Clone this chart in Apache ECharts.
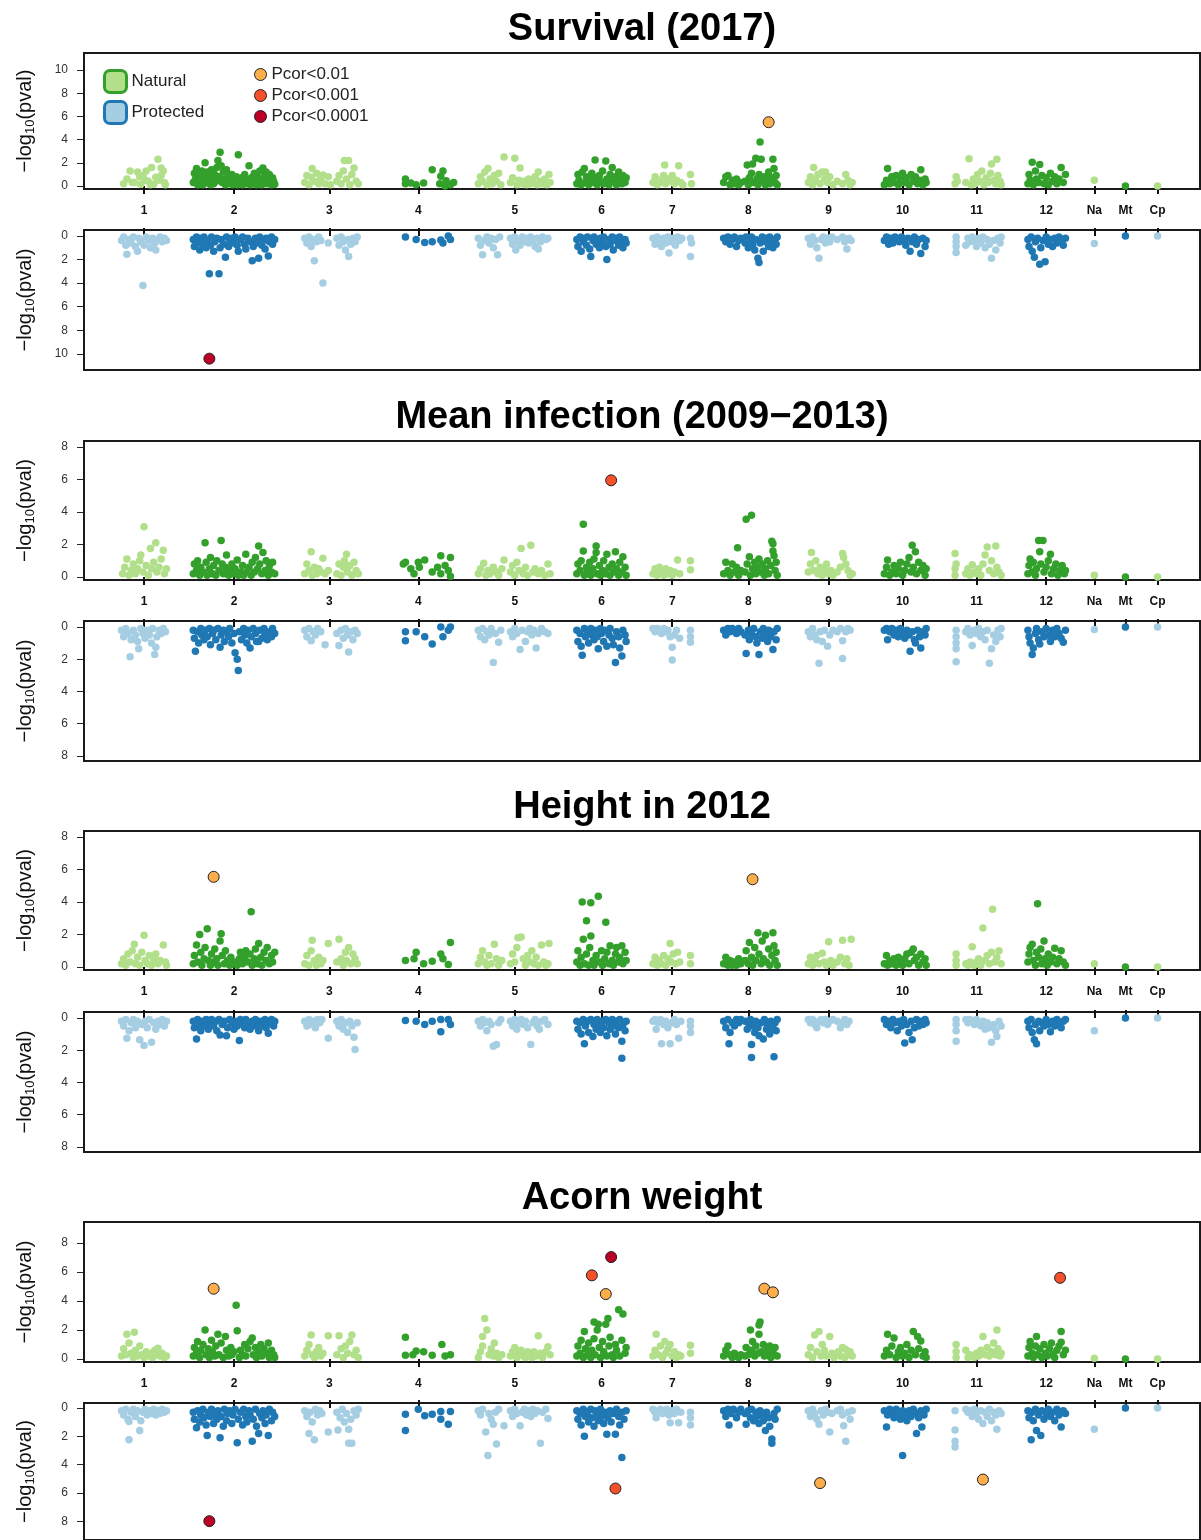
<!DOCTYPE html>
<html><head><meta charset="utf-8">
<script src="https://cdn.jsdelivr.net/npm/echarts@6/dist/echarts.min.js"></script>
<style>html,body{margin:0;padding:0;background:#fff}#c{width:1201px;height:1540px}</style>
</head><body><div id="c"></div>
<script>
// ---- chromosome axis (cumulative genome position units) ----
const chrNames = ['1','2','3','4','5','6','7','8','9','10','11','12','Na','Mt','Cp'];
const chrTicks = [56,140,229,312,402,483,549,620,695,764,833,898,943,972,1002];
const chrEnds  = [90,192,280,357,448,520,583,661,731,798,868,928,958,988,1042];
const genomeLength = 1041.6;
const panelTitles = ['Survival (2017)','Mean infection (2009\u22122013)','Height in 2012','Acorn weight'];
const yTicksSurvival = [0,2,4,6,8,10];
const yTicksOther = [0,2,4,6,8];
const sigLabels = ['Pcor<0.01','Pcor<0.001','Pcor<0.0001'];

// ---- data: [cumulative position, -log10(p)] ; sig: [position, -log10(p), level] ----
const survivalNatural = [
[37,0.2],[40,0.6],[43,1.3],[45,0.3],[47,0.3],[50,1.2],[52,0.8],[53,0.15],[55,0.9],[57,0.5],[58,1.3],[60,0.4],[62,0.1],[63,1.6],[65,0.15],[67,0.75],[69,2.3],[70,0.5],[72,1.55],[72,0.9],[74,1.3],[75,0.3],[76,0.1],
[102,0.3],[103,1.1],[104,0.6],[105,1.5],[106,0.1],[108,0.9],[109,0.4],[110,1.3],[111,0.1],[112,0.7],[113,2.0],[114,0.3],[115,1.2],[116,0.5],[117,0.9],[118,0.1],[119,1.4],[120,0.6],[121,0.2],[122,1.0],[123,0.4],[124,1.6],[125,2.2],[126,0.8],[127,2.9],[128,1.75],[129,0.3],[130,1.2],[131,0.6],[132,0.1],[133,1.4],[134,0.5],[135,0.9],[136,0.2],[137,0.4],[138,1.0],[139,0.1],[140,0.6],[141,0.3],[142,0.8],[143,0.1],[144,2.7],[145,0.4],[146,0.2],[147,0.7],[148,0.1],[149,0.5],[150,1.0],[151,0.2],[152,0.3],[153,0.6],[154,1.75],[155,0.1],[156,0.4],[157,0.75],[158,0.2],[159,1.1],[160,0.5],[161,0.1],[162,0.8],[163,0.3],[164,1.3],[165,0.6],[166,0.1],[167,1.55],[168,0.4],[169,0.9],[170,1.2],[171,0.2],[172,0.6],[173,1.0],[174,0.3],[175,0.1],[176,0.7],[177,0.4],[178,0.15],
[206,0.3],[208,0.9],[210,0.1],[212,0.75],[213,1.5],[215,0.4],[217,1.1],[219,0.2],[221,0.6],[223,0.95],[225,0.2],[228,0.8],[230,0.1],[236,0.4],[238,0.9],[240,0.2],[242,1.3],[243,2.2],[245,0.6],[247,2.2],[248,0.1],[250,1.0],[252,1.55],[254,0.4],[256,0.2],
[300,0.6],[300,0.2],[305,0.25],[310,0.1],[317,0.25],[325,1.4],[332,0.2],[333,0.85],[335,1.3],[337,0.0],[338,0.45],[342,0.1],[345,0.3],
[368,0.2],[370,0.8],[372,0.4],[374,1.2],[376,0.1],[377,1.5],[379,0.6],[381,0.2],[383,0.9],[385,0.4],[387,1.1],[389,0.1],[392,2.5],[398,0.3],[400,0.7],[402,2.4],[404,0.1],[406,0.5],[407,1.55],[409,0.2],[411,0.4],[413,0.1],[415,0.6],[417,0.2],[419,0.3],[421,0.8],[423,0.1],[424,1.2],[426,0.4],[428,0.2],[430,0.6],[432,0.1],[434,1.0],[435,0.3],
[460,0.2],[461,1.0],[462,0.5],[464,0.1],[465,1.2],[467,1.5],[468,0.3],[469,0.8],[471,0.1],[472,0.6],[474,1.1],[475,0.3],[477,2.25],[478,0.7],[479,0.1],[481,0.9],[482,0.4],[484,1.3],[485,0.2],[487,2.15],[488,0.6],[490,0.1],[491,1.0],[493,1.6],[494,0.4],[496,0.8],[497,0.1],[499,1.2],[500,0.5],[502,0.2],[503,0.9],[505,0.3],[506,0.7],
[531,0.3],[533,0.8],[535,0.1],[537,0.5],[539,0.3],[541,0.9],[542,1.8],[543,0.2],[545,0.6],[547,0.4],[549,0.9],[551,0.2],[553,0.5],[555,1.75],[557,0.3],[559,0.1],[566,1.0],[567,0.2],
[597,0.3],[599,0.8],[601,0.9],[603,0.1],[605,0.5],[607,0.2],[609,0.6],[611,0.1],[613,0.3],[617,0.4],[619,1.8],[620,0.1],[621,0.7],[623,1.1],[624,1.9],[625,0.3],[627,2.4],[628,0.6],[629,0.1],[630,1.0],[631,3.8],[632,2.3],[633,0.4],[635,0.8],[636,0.1],[637,0.5],[639,1.2],[640,0.2],[641,0.7],[643,2.3],[644,1.5],[645,0.3],[646,0.9],[647,0.1],
[676,0.3],[678,0.8],[680,0.1],[681,1.6],[683,0.5],[685,1.0],[687,0.2],[689,1.2],[691,0.6],[692,1.2],[694,0.3],[696,0.8],[699,0.1],[703,0.4],[708,0.2],[711,1.0],[713,0.5],[715,0.1],[717,0.3],
[747,0.1],[749,0.5],[750,1.5],[752,0.2],[754,0.8],[756,0.3],[758,0.9],[760,0.1],[762,0.6],[764,1.1],[766,0.3],[768,0.7],[770,0.1],[772,1.0],[774,0.4],[776,0.8],[778,0.2],[780,0.5],[781,1.4],[783,0.1],[785,0.6],[786,0.3],
[813,0.2],[814,0.8],[815,0.4],[823,0.3],[826,2.35],[828,0.1],[830,0.6],[832,0.2],[834,1.0],[836,0.4],[838,1.3],[840,0.1],[842,0.7],[844,0.3],[846,1.1],[847,1.9],[849,0.5],[851,0.2],[852,2.3],[853,0.9],[855,0.4],[856,0.1],
[881,0.2],[882,1.0],[883,0.5],[885,2.05],[886,0.1],[888,1.3],[889,0.6],[891,0.3],[892,1.85],[894,0.9],[896,0.2],[898,0.7],[900,0.1],[902,1.1],[904,0.4],[906,0.8],[908,0.2],[910,0.6],[912,1.6],[914,0.3],[916,1.0],
[943,0.5],[972,0.0],[1002,0.0]];
const survivalNaturalSig = [[639,5.5,0]];

const survivalProtected = [
[35,0.4],[37,0.1],[39,0.8],[40,1.55],[42,0.3],[44,0.6],[46,0.1],[48,0.9],[50,1.3],[51,0.2],[53,0.5],[55,4.2],[56,0.8],[58,0.1],[60,0.4],[62,1.0],[64,0.2],[66,0.6],[67,1.2],[69,0.3],[71,0.1],[73,0.5],[75,0.2],[77,0.4],
[102,0.3],[103,0.9],[105,0.1],[106,0.6],[108,1.2],[109,0.2],[111,0.7],[112,0.1],[114,1.0],[115,0.4],[117,3.2],[118,0.8],[119,0.1],[121,1.3],[122,0.5],[124,0.2],[126,3.2],[127,1.0],[128,0.3],[130,0.7],[132,1.8],[133,0.1],[135,0.9],[136,0.4],[138,0.2],[140,0.6],[141,0.1],[143,0.8],[144,1.3],[146,0.3],[148,0.1],[150,0.7],[151,1.1],[153,0.2],[155,0.5],[157,2.1],[158,0.9],[160,0.2],[161,0.6],[163,1.9],[164,0.1],[166,0.8],[167,0.4],[169,1.1],[170,0.2],[172,1.7],[173,0.5],[175,0.1],[176,0.7],[178,0.3],
[206,0.2],[208,0.6],[210,0.1],[212,0.9],[214,0.3],[215,2.1],[217,0.5],[219,0.1],[221,0.4],[223,4.0],[228,0.6],[236,0.2],[238,0.8],[240,0.1],[242,0.5],[244,1.2],[246,0.3],[247,1.75],[249,0.7],[251,0.2],[253,0.5],[255,0.1],
[300,0.1],[310,0.3],[318,0.55],[325,0.5],[333,0.35],[335,0.6],[340,0.0],[342,0.3],
[368,0.2],[370,0.8],[372,1.6],[374,0.4],[376,0.1],[378,0.6],[380,0.2],[382,1.0],[384,0.3],[386,1.6],[388,0.1],[398,0.2],[400,0.7],[402,0.1],[403,1.2],[405,0.4],[407,0.8],[409,0.1],[411,0.5],[413,0.2],[415,0.6],[417,0.1],[419,0.4],[421,0.9],[423,0.2],[424,1.1],[426,0.5],[428,0.1],[431,0.3],[433,0.2],
[460,0.3],[461,0.9],[463,0.1],[464,1.3],[466,0.5],[467,0.2],[469,0.8],[470,0.1],[472,1.1],[473,1.75],[475,0.4],[476,0.1],[478,0.7],[479,0.3],[481,1.0],[482,0.2],[484,0.6],[485,0.1],[487,0.9],[488,2.0],[490,0.3],[491,0.7],[493,0.1],[494,1.2],[496,0.4],[497,0.2],[499,0.8],[500,0.1],[502,0.5],[503,1.0],[505,0.3],[506,0.6],
[531,0.2],[533,0.7],[535,0.1],[537,0.4],[539,0.9],[541,0.2],[543,0.6],[545,0.1],[546,1.45],[548,0.5],[550,0.2],[552,0.8],[554,0.1],[556,0.4],[558,0.2],[566,0.2],[566,1.75],[567,0.6],
[597,0.2],[599,0.5],[601,0.1],[603,0.7],[605,0.3],[607,0.1],[609,0.9],[611,0.4],[613,0.2],[617,0.6],[618,0.1],[620,1.0],[621,0.4],[623,0.1],[624,0.8],[626,1.2],[627,0.3],[629,1.9],[630,2.25],[631,0.6],[633,0.1],[634,1.3],[636,0.5],[637,0.2],[639,0.9],[640,0.1],[642,0.6],[643,1.0],[645,0.3],[646,0.7],[647,0.1],
[676,0.2],[678,0.7],[680,0.1],[682,0.4],[684,1.0],[686,1.9],[688,0.3],[690,0.1],[692,0.6],[694,0.2],[696,0.5],[698,0.1],[703,0.3],[708,0.1],[710,0.5],[712,1.1],[714,0.2],[716,0.4],
[747,0.4],[749,0.1],[751,0.7],[753,0.2],[755,0.6],[757,0.1],[759,0.3],[761,0.5],[763,0.1],[765,0.4],[767,0.8],[769,0.2],[771,1.3],[773,0.5],[775,0.1],[777,0.7],[779,0.3],[781,1.5],[783,0.2],[785,0.9],[786,0.4],
[814,0.1],[814,0.5],[814,0.9],[814,1.4],[823,0.8],[825,0.2],[827,0.5],[829,0.1],[831,0.4],[833,0.9],[835,0.2],[837,0.6],[839,0.1],[841,1.0],[843,0.3],[845,0.7],[847,1.9],[849,0.4],[851,1.2],[853,0.2],[855,0.6],[856,0.1],
[881,0.3],[882,0.9],[884,0.1],[885,1.3],[887,1.8],[888,0.5],[890,0.2],[892,2.4],[893,1.0],[895,0.4],[897,2.2],[898,0.1],[900,0.7],[902,0.3],[904,0.9],[906,0.2],[908,0.6],[910,0.1],[912,0.4],[914,0.8],[916,0.2],
[943,0.65],[972,0.0],[1002,0.0]];
const survivalProtectedSig = [[117,10.4,2]];

const infectionNatural = [
[36,0.2],[38,0.6],[40,1.1],[42,0.1],[44,0.4],[46,0.8],[48,0.2],[50,0.5],[52,1.0],[53,1.35],[55,0.3],[56,3.1],[58,0.7],[60,0.1],[62,1.75],[63,0.5],[65,0.9],[67,2.1],[68,0.3],[70,0.6],[72,1.1],[74,1.65],[75,0.2],[77,0.5],
[102,0.2],[103,0.8],[105,0.4],[106,1.0],[108,0.1],[109,0.6],[111,0.3],[113,2.1],[114,0.9],[115,0.1],[117,0.5],[118,1.2],[120,0.2],[121,0.7],[123,0.1],[124,1.0],[126,0.4],[128,2.25],[129,0.8],[130,0.2],[132,0.6],[133,1.35],[135,0.1],[136,0.4],[138,0.8],[139,0.2],[141,0.5],[143,1.05],[144,0.1],[146,0.3],[148,0.7],[149,0.1],[151,1.4],[152,0.3],[154,0.6],[156,0.1],[157,0.9],[159,0.3],[160,1.2],[162,0.5],[163,1.9],[164,0.8],[166,0.2],[167,1.5],[169,0.4],[170,1.0],[172,0.1],[173,0.7],[175,0.3],[176,0.9],[178,0.2],
[206,0.2],[208,0.8],[210,0.4],[212,1.55],[213,0.1],[215,0.6],[217,0.2],[219,0.5],[221,0.3],[223,1.15],[225,0.2],[228,0.4],[236,0.2],[238,0.8],[240,0.1],[242,0.6],[243,1.0],[245,1.4],[246,0.3],[248,0.7],[250,0.1],[252,0.9],[254,0.4],[256,0.2],
[298,0.8],[300,0.9],[305,0.5],[308,0.2],[312,0.9],[313,0.6],[318,1.05],[325,0.3],[330,0.6],[333,1.3],[333,0.2],[337,0.7],[340,0.4],[342,1.2],[342,0.05],
[368,0.2],[370,0.5],[373,0.85],[375,0.1],[377,0.4],[379,0.2],[382,0.6],[385,0.3],[387,0.1],[390,0.5],[392,1.05],[398,0.3],[400,0.7],[402,0.1],[404,0.9],[406,0.4],[408,1.75],[410,0.2],[412,0.6],[414,0.1],[417,1.95],[419,0.3],[421,0.5],[424,0.2],[427,0.4],[430,0.1],[433,0.8],[435,0.2],
[460,0.2],[461,0.8],[463,0.4],[464,1.0],[466,3.25],[466,1.6],[467,0.1],[469,0.6],[470,0.3],[472,0.9],[473,0.1],[475,0.5],[476,1.1],[478,1.9],[478,1.5],[479,0.2],[481,0.7],[482,0.1],[484,0.4],[485,1.0],[487,0.2],[488,1.4],[490,0.6],[491,0.1],[493,0.8],[494,0.3],[496,1.55],[497,0.5],[499,0.1],[500,0.9],[502,0.3],[503,1.25],[505,0.6],[506,0.1],
[531,0.2],[533,0.5],[535,0.1],[537,0.6],[539,0.3],[541,0.1],[543,0.5],[545,0.2],[547,0.4],[549,0.1],[551,0.3],[554,1.05],[556,0.2],[566,1.0],[566,0.45],
[597,0.2],[599,0.9],[601,0.4],[603,0.1],[605,0.8],[607,0.3],[609,0.6],[610,1.8],[611,0.1],[613,0.4],[617,0.3],[618,3.55],[619,0.8],[621,1.25],[622,0.1],[623,3.8],[624,0.5],[626,0.9],[627,0.2],[629,0.6],[630,1.1],[632,0.3],[633,0.8],[635,0.1],[636,0.5],[638,1.0],[639,0.2],[641,0.7],[642,2.2],[643,2.05],[643,1.6],[644,1.3],[645,0.4],[646,0.9],[647,0.1],
[676,0.3],[678,0.8],[679,1.5],[681,0.4],[683,1.0],[685,0.2],[687,0.6],[689,0.1],[691,0.5],[693,0.8],[695,0.2],[697,0.4],[699,0.1],[703,0.3],[706,0.6],[708,1.45],[709,1.2],[711,0.8],[713,0.4],[715,0.1],[717,0.2],
[747,0.2],[749,0.6],[750,1.05],[752,0.1],[754,0.3],[756,0.7],[758,0.2],[760,0.5],[762,0.9],[764,0.1],[766,0.4],[768,0.8],[770,1.2],[772,0.3],[773,1.95],[774,0.6],[776,1.55],[777,0.2],[779,0.9],[781,0.4],[783,0.7],[785,0.1],[786,0.5],
[813,0.1],[813,0.5],[813,1.45],[814,0.8],[823,0.2],[825,0.5],[827,0.1],[829,0.75],[831,0.3],[833,0.2],[835,0.5],[837,0.1],[839,0.8],[841,1.35],[843,1.85],[845,0.4],[847,1.0],[849,0.2],[851,1.9],[852,0.6],[854,0.3],[856,0.1],
[881,0.2],[882,0.7],[883,1.1],[885,0.3],[886,0.9],[888,0.1],[889,0.5],[891,2.25],[892,1.55],[893,0.8],[895,2.25],[896,0.3],[898,0.6],[900,1.0],[902,1.4],[903,0.2],[905,0.5],[907,0.8],[909,0.1],[911,0.4],[913,0.7],[915,0.2],[916,0.4],
[943,0.1],[972,0.0],[1002,0.0]];
const infectionNaturalSig = [[492,5.95,1]];

const infectionProtected = [
[35,0.2],[37,0.6],[39,0.1],[41,0.4],[43,1.85],[44,0.8],[46,0.2],[48,0.5],[50,0.9],[51,1.35],[53,0.1],[55,0.4],[57,0.7],[59,0.2],[61,0.5],[63,1.0],[64,0.1],[66,1.7],[67,1.25],[68,0.6],[70,0.2],[72,0.4],[74,0.1],[76,0.3],
[102,0.2],[103,0.7],[104,1.5],[106,0.3],[107,1.0],[109,0.1],[110,0.5],[112,0.8],[113,0.2],[115,0.6],[117,0.1],[118,1.1],[120,0.4],[121,0.2],[123,0.8],[125,0.1],[127,1.25],[128,0.5],[130,0.2],[131,0.9],[133,0.3],[135,0.6],[136,0.1],[138,1.0],[140,0.4],[141,1.6],[143,2.0],[144,2.7],[145,0.3],[147,0.8],[149,0.1],[150,0.5],[152,1.0],[153,0.2],[155,1.3],[156,0.6],[158,0.1],[160,0.4],[161,0.9],[163,0.9],[164,0.2],[166,0.7],[168,0.1],[169,0.5],[171,0.8],[173,0.3],[175,0.6],[176,0.1],[178,0.4],
[206,0.2],[208,0.6],[210,0.1],[212,0.85],[214,0.3],[216,0.5],[218,0.1],[221,0.3],[225,1.1],[236,0.4],[238,1.15],[240,0.2],[242,0.7],[244,0.1],[246,0.5],[247,1.55],[249,0.3],[251,0.8],[253,0.2],[255,0.4],
[300,0.3],[300,0.85],[310,0.3],[318,0.6],[325,1.05],[333,0.0],[335,0.6],[340,0.2],[342,0.0],
[368,0.2],[370,0.6],[372,0.1],[374,0.8],[376,0.3],[378,0.5],[380,0.1],[382,2.2],[384,0.4],[387,0.95],[389,0.2],[398,0.3],[400,0.6],[402,0.1],[404,0.4],[407,1.4],[409,0.2],[412,0.9],[414,0.3],[416,0.1],[418,0.5],[420,0.2],[422,1.3],[424,0.4],[427,0.1],[430,0.3],[433,0.4],
[460,0.2],[461,0.9],[463,0.4],[464,1.2],[465,1.75],[467,0.1],[468,0.6],[470,0.3],[471,1.0],[473,0.1],[474,0.5],[476,0.8],[477,0.2],[479,0.6],[480,1.35],[482,0.1],[483,0.4],[485,0.9],[486,0.2],[488,1.2],[490,0.5],[491,0.1],[493,0.7],[494,1.1],[496,2.2],[497,0.3],[499,0.6],[500,1.3],[502,1.8],[503,0.2],[505,0.5],[506,0.9],
[531,0.1],[533,0.3],[535,0.1],[537,0.2],[539,0.4],[541,0.1],[543,0.3],[545,0.2],[547,0.6],[549,1.25],[549,2.05],[551,0.5],[553,0.2],[556,0.7],[566,0.2],[566,0.6],[566,0.95],
[597,0.2],[599,0.5],[601,0.1],[603,0.3],[605,0.1],[607,0.2],[609,0.4],[611,0.1],[613,0.3],[617,0.5],[618,1.65],[620,0.2],[621,0.8],[623,0.4],[625,0.1],[627,0.6],[628,1.0],[630,1.7],[631,0.3],[633,0.7],[634,0.1],[636,0.5],[638,0.9],[639,0.2],[641,0.6],[643,1.4],[644,0.3],[646,0.8],[647,0.1],
[676,0.3],[678,0.6],[680,0.1],[682,0.5],[684,0.8],[686,2.25],[687,0.3],[689,0.9],[691,0.2],[694,1.2],[696,0.5],[699,0.2],[703,0.3],[706,0.1],[708,0.85],[708,1.95],[711,0.3],[713,0.1],[715,0.2],
[747,0.2],[749,0.1],[750,0.8],[752,0.3],[754,0.1],[756,0.5],[758,0.2],[760,0.6],[762,0.1],[764,0.4],[766,0.7],[768,0.2],[770,0.5],[771,1.5],[773,0.3],[775,0.8],[776,1.0],[778,0.2],[780,0.6],[781,1.3],[783,0.3],[785,0.5],[786,0.1],
[814,0.2],[814,0.6],[814,1.0],[814,1.35],[814,2.15],[823,0.3],[825,0.1],[827,0.5],[829,1.15],[831,0.2],[833,0.4],[835,0.1],[837,0.6],[839,0.3],[841,0.8],[843,0.2],[845,2.25],[847,1.35],[849,0.5],[851,0.9],[853,0.2],[855,0.6],[856,0.1],
[881,0.2],[882,0.6],[883,1.0],[885,1.7],[886,1.3],[888,0.4],[889,0.1],[891,0.8],[892,1.05],[894,0.3],[896,0.6],[898,0.1],[900,0.5],[902,0.9],[904,0.2],[906,0.6],[908,0.1],[910,0.4],[912,0.7],[914,0.95],[916,0.2],
[943,0.15],[972,0.0],[1002,0.0]];
const infectionProtectedSig = [];

const heightNatural = [
[35,0.2],[37,0.5],[39,0.1],[41,0.8],[43,0.3],[45,1.0],[47,1.4],[48,0.2],[50,0.6],[52,0.1],[54,0.9],[56,1.95],[57,0.4],[59,0.2],[61,0.7],[63,0.1],[65,0.5],[67,0.8],[69,0.2],[71,0.4],[74,1.35],[76,0.3],[77,0.1],
[102,0.2],[103,0.7],[105,1.35],[106,0.3],[108,2.0],[109,0.9],[110,0.1],[112,0.5],[113,1.2],[115,2.35],[116,0.4],[118,0.1],[119,0.8],[121,0.3],[122,1.1],[124,0.5],[125,0.1],[127,1.6],[128,2.05],[129,0.7],[131,0.2],[132,1.0],[134,0.4],[136,0.1],[137,0.6],[139,0.2],[141,0.3],[143,0.1],[145,0.5],[146,0.9],[148,0.2],[150,0.6],[151,1.0],[153,0.3],[155,0.8],[156,3.4],[157,0.1],[159,0.5],[160,1.1],[162,0.2],[163,1.45],[165,0.6],[166,0.1],[168,0.9],[170,0.4],[171,1.2],[173,0.2],[175,0.7],[176,0.3],[178,0.9],
[206,0.2],[208,0.7],[210,0.1],[212,1.0],[213,1.65],[215,0.4],[217,0.1],[219,0.6],[221,0.2],[223,0.4],[228,1.45],[236,0.3],[238,1.7],[240,0.5],[242,0.1],[244,0.9],[245,0.4],[247,1.2],[249,0.2],[251,0.8],[253,0.5],[255,0.2],
[300,0.4],[308,0.5],[310,0.9],[317,0.2],[325,0.35],[333,0.8],[335,0.5],[340,0.15],[342,1.5],
[368,0.2],[370,0.6],[372,1.0],[374,0.3],[376,0.1],[378,0.7],[380,0.2],[383,1.4],[385,0.5],[387,0.1],[390,0.4],[398,0.2],[400,0.8],[402,0.3],[404,1.2],[405,1.8],[408,1.85],[410,0.5],[412,0.1],[414,0.7],[416,0.3],[418,1.0],[420,0.2],[422,0.6],[424,0.1],[427,1.35],[429,0.3],[431,0.1],[433,0.2],[434,1.45],
[460,0.3],[461,1.0],[463,0.1],[464,0.6],[465,4.0],[466,1.7],[467,0.2],[469,2.85],[469,0.8],[471,0.1],[472,1.2],[473,3.95],[473,1.9],[475,0.4],[476,0.1],[478,0.7],[480,4.35],[481,0.3],[483,1.0],[484,0.1],[486,0.5],[487,2.75],[488,0.9],[490,0.2],[491,1.3],[493,0.4],[494,0.1],[496,0.8],[497,1.2],[499,0.3],[500,0.6],[502,1.3],[503,0.2],[505,0.9],[506,0.4],
[531,0.2],[533,0.6],[535,0.1],[537,0.4],[539,0.2],[541,0.7],[543,0.1],[545,0.5],[547,1.45],[548,0.3],[550,0.8],[552,0.2],[554,0.9],[556,0.3],[566,0.7],[566,0.2],
[597,0.2],[599,0.6],[601,0.1],[603,0.4],[605,0.1],[607,0.3],[609,0.1],[611,0.5],[613,0.2],[617,0.4],[618,1.0],[620,0.2],[621,1.5],[623,0.6],[624,0.1],[626,1.2],[627,0.4],[629,2.1],[630,0.8],[632,0.2],[633,1.6],[634,0.5],[636,1.95],[637,0.3],[639,1.1],[640,0.1],[642,0.7],[643,2.1],[644,1.3],[645,0.4],[646,0.9],[647,0.1],
[676,0.2],[678,0.6],[680,0.1],[682,0.4],[684,0.7],[686,0.2],[689,0.85],[691,0.3],[693,0.1],[695,1.55],[697,0.4],[699,0.1],[703,0.3],[706,0.6],[708,1.65],[710,0.2],[712,0.5],[714,0.1],[716,1.7],
[747,0.2],[749,0.7],[750,0.1],[752,0.4],[754,0.2],[756,0.5],[758,0.1],[760,0.6],[762,0.3],[764,0.1],[766,0.5],[768,0.8],[770,0.2],[772,0.9],[774,1.1],[775,0.4],[777,0.6],[779,0.1],[781,0.8],[783,0.3],[785,0.5],[786,0.1],
[814,0.1],[814,0.4],[814,0.8],[823,0.2],[825,0.1],[827,0.3],[829,1.25],[831,0.1],[833,0.3],[835,0.5],[837,0.1],[839,2.4],[841,0.4],[843,0.7],[845,0.2],[847,0.9],[848,3.55],[850,0.3],[852,0.6],[854,1.0],[856,0.2],
[881,0.3],[882,0.8],[883,1.2],[885,1.4],[886,0.4],[888,0.1],[889,0.9],[890,3.9],[891,0.6],[893,1.1],[894,0.2],[896,1.6],[897,0.5],[899,0.1],[900,0.8],[902,0.3],[904,0.6],[906,1.15],[908,0.2],[910,0.5],[912,1.0],[914,0.3],[916,0.1],
[943,0.2],[972,0.0],[1002,0.0]];
const heightNaturalSig = [[121,5.55,0],[624,5.4,0]];

const heightProtected = [
[35,0.2],[37,0.5],[39,0.1],[40,1.25],[42,0.8],[44,0.3],[46,0.1],[48,0.6],[50,0.2],[52,1.35],[54,0.4],[56,1.7],[57,0.2],[59,0.6],[61,0.1],[63,1.5],[65,0.3],[67,0.7],[69,0.2],[71,0.4],[73,0.1],[75,0.5],[77,0.2],
[102,0.2],[103,0.6],[105,1.3],[106,0.1],[108,0.4],[109,0.8],[111,0.2],[113,0.5],[114,0.1],[116,0.7],[118,0.3],[119,0.1],[121,0.5],[123,0.2],[124,0.8],[126,0.1],[127,1.05],[129,0.4],[131,0.2],[133,1.1],[134,0.6],[136,0.1],[138,0.3],[140,0.7],[141,0.2],[143,0.5],[145,1.4],[146,0.1],[148,0.4],[150,0.6],[151,0.1],[153,0.3],[155,0.7],[157,0.2],[158,0.5],[160,0.1],[162,0.4],[163,0.8],[165,0.2],[167,0.5],[169,0.1],[170,0.6],[172,0.95],[173,0.3],[175,0.1],[177,0.5],[178,0.2],
[206,0.2],[208,0.5],[210,0.1],[212,0.4],[214,0.2],[216,0.6],[218,0.1],[220,0.3],[222,0.1],[228,1.25],[236,0.2],[238,0.5],[240,0.1],[242,0.7],[244,0.3],[246,0.9],[248,0.2],[250,0.5],[252,1.2],[253,1.95],[255,0.3],
[300,0.15],[310,0.2],[318,0.4],[325,0.2],[333,0.85],[333,0.1],[340,0.1],[342,0.4],
[368,0.2],[370,0.5],[372,0.1],[374,0.3],[376,0.8],[378,0.2],[380,0.4],[382,1.75],[385,1.65],[387,0.3],[389,0.1],[398,0.2],[400,0.5],[402,0.1],[404,0.7],[406,0.3],[408,0.1],[410,0.4],[412,0.2],[414,0.6],[417,1.65],[419,0.3],[421,0.1],[423,0.5],[425,0.7],[427,0.2],[430,0.1],[433,0.4],
[460,0.2],[461,0.7],[463,0.3],[464,1.0],[466,0.1],[467,1.6],[468,0.5],[470,0.2],[471,0.9],[473,0.1],[475,1.15],[476,0.4],[478,0.7],[479,0.1],[481,0.5],[482,0.9],[484,0.2],[485,0.6],[487,0.1],[488,1.1],[490,0.3],[491,0.7],[493,0.1],[494,0.5],[496,1.0],[497,0.2],[499,0.6],[500,0.1],[502,2.5],[502,1.45],[503,0.4],[505,0.8],[506,0.2],
[531,0.2],[533,0.1],[534,0.7],[536,0.3],[538,0.1],[539,1.6],[541,0.4],[543,0.2],[545,0.6],[547,1.6],[549,0.3],[551,0.1],[553,0.4],[555,1.25],[557,0.2],[566,0.2],[566,0.5],[566,0.9],
[597,0.2],[599,0.6],[601,0.1],[602,1.6],[603,0.9],[605,0.3],[607,0.5],[609,0.1],[611,0.3],[613,0.1],[617,0.2],[619,0.7],[620,0.3],[622,0.1],[623,1.65],[623,2.45],[624,0.5],[626,0.9],[627,0.2],[629,0.6],[630,1.1],[632,0.3],[634,1.3],[635,0.1],[637,0.7],[638,0.4],[640,1.0],[641,0.2],[643,0.6],[644,2.4],[645,0.3],[646,0.8],[647,0.1],
[676,0.1],[678,0.3],[680,0.1],[682,0.4],[684,0.6],[686,0.2],[688,0.1],[690,0.3],[692,0.1],[694,0.4],[696,0.2],[699,0.1],[703,0.2],[706,0.6],[708,0.3],[710,0.1],[712,0.4],[714,0.2],
[747,0.1],[749,0.4],[751,0.2],[753,0.6],[755,0.1],[757,0.3],[759,0.8],[761,0.2],[763,0.5],[765,0.1],[766,1.55],[768,0.4],[770,0.9],[772,0.2],[773,1.35],[775,0.6],[777,0.1],[779,0.5],[781,0.2],[783,0.4],[785,0.1],[786,0.3],
[814,0.1],[814,0.4],[814,0.8],[814,1.45],[823,0.1],[825,0.3],[827,0.1],[829,0.2],[831,0.4],[833,0.1],[835,0.3],[837,0.5],[839,0.2],[841,0.7],[843,0.3],[845,0.6],[847,1.5],[849,0.4],[851,0.8],[852,1.15],[854,0.2],[856,0.5],
[881,0.2],[882,0.6],[884,0.1],[885,0.9],[887,1.35],[888,0.4],[889,1.6],[891,0.2],[892,0.8],[894,0.3],[896,0.5],[898,0.1],[900,0.4],[902,0.85],[904,0.2],[906,0.5],[908,0.1],[910,0.3],[912,0.6],[914,0.2],[916,0.1],
[943,0.8],[972,0.0],[1002,0.0]];
const heightProtectedSig = [];

const acornNatural = [
[35,0.2],[37,0.7],[39,0.3],[40,1.7],[42,1.1],[44,0.4],[46,0.1],[47,1.85],[48,0.6],[50,0.2],[52,0.9],[54,0.3],[56,0.1],[58,0.5],[60,0.2],[62,0.4],[64,0.1],[66,0.6],[67,0.3],[69,0.75],[71,0.2],[73,0.4],[75,0.1],[77,0.2],
[102,0.2],[103,0.8],[105,0.4],[106,1.2],[108,0.1],[109,0.6],[111,1.0],[113,2.0],[114,0.3],[116,0.7],[117,0.1],[119,1.3],[120,0.5],[122,0.2],[123,0.9],[125,1.7],[126,0.3],[128,1.1],[130,0.1],[132,1.55],[133,0.6],[135,0.2],[137,0.8],[138,0.3],[140,0.5],[142,3.7],[143,1.95],[145,0.1],[146,0.6],[148,0.3],[150,1.0],[151,0.2],[153,0.7],[155,1.2],[157,1.45],[158,0.3],[160,0.8],[161,0.1],[163,0.5],[165,1.0],[166,0.2],[168,0.7],[170,0.4],[172,1.1],[173,0.1],[175,0.6],[177,0.3],[178,0.1],
[206,0.2],[208,0.6],[210,1.0],[212,1.65],[213,0.3],[215,0.1],[217,0.5],[219,0.8],[221,0.2],[223,0.4],[228,1.6],[236,0.3],[238,1.6],[240,0.7],[242,0.1],[244,0.9],[246,0.4],[248,1.2],[250,1.65],[252,0.3],[254,0.6],[256,0.1],
[300,1.5],[300,0.25],[307,0.3],[310,0.55],[317,0.5],[325,0.25],[334,1.0],[337,0.2],[342,0.3],
[368,0.1],[370,0.5],[372,0.9],[372,1.55],[374,2.8],[376,2.0],[378,0.3],[380,0.7],[382,0.2],[383,1.1],[385,0.4],[387,0.1],[390,0.3],[398,0.2],[400,0.5],[402,0.8],[404,0.1],[406,0.4],[408,0.6],[410,0.2],[412,0.1],[414,0.5],[416,0.3],[418,0.1],[420,0.5],[422,0.2],[424,1.6],[426,0.4],[428,0.1],[431,0.5],[433,0.85],[435,0.3],
[460,0.2],[461,0.9],[463,0.4],[464,1.3],[466,0.1],[467,1.9],[468,0.7],[470,0.3],[471,1.1],[473,0.1],[474,0.6],[476,2.55],[476,1.4],[477,0.3],[479,2.0],[480,2.4],[481,0.8],[482,0.1],[484,1.2],[485,0.5],[487,2.4],[488,0.2],[489,2.8],[490,0.9],[491,1.5],[493,0.3],[494,0.1],[496,1.0],[497,0.6],[499,3.4],[500,0.2],[502,1.3],[503,3.1],[505,0.4],[506,0.8],
[531,0.2],[533,0.6],[534,1.7],[536,0.3],[538,0.9],[540,0.1],[542,1.2],[543,0.4],[545,0.7],[547,1.0],[549,0.2],[551,0.5],[553,0.1],[555,0.3],[557,0.2],[566,0.95],[566,0.4],
[597,0.2],[599,0.6],[601,0.9],[603,0.3],[605,0.1],[607,0.4],[609,0.2],[611,0.1],[613,0.3],[617,0.2],[618,0.8],[620,0.3],[622,2.0],[623,0.6],[624,1.2],[626,0.2],[627,0.9],[629,0.4],[630,1.7],[630,2.35],[631,2.55],[632,0.5],[634,1.0],[635,0.2],[637,0.7],[638,0.3],[640,0.9],[641,0.1],[643,0.6],[644,0.3],[645,0.8],[647,0.2],
[676,0.3],[678,0.8],[680,0.1],[682,1.65],[684,0.5],[686,1.9],[688,0.2],[689,1.0],[691,0.6],[693,0.2],[696,1.55],[698,0.4],[700,0.1],[704,0.5],[706,0.2],[708,0.8],[710,0.1],[711,0.65],[713,0.3],[715,0.5],[717,0.2],
[747,0.2],[749,0.6],[750,1.7],[752,0.3],[754,0.9],[756,1.45],[758,0.1],[760,0.5],[762,0.8],[764,0.2],[766,0.4],[768,1.0],[770,0.1],[772,0.6],[774,1.9],[776,0.3],[778,1.55],[779,0.7],[781,1.25],[783,0.2],[785,0.5],[786,0.1],
[814,0.1],[814,0.5],[814,1.0],[823,0.6],[825,0.1],[827,0.3],[829,0.2],[831,0.1],[833,0.4],[835,0.2],[837,0.6],[839,1.55],[841,0.3],[843,0.8],[845,0.2],[847,0.5],[849,1.1],[851,0.3],[852,2.0],[853,0.7],[855,0.2],[856,0.4],
[881,0.2],[882,0.8],[883,1.2],[885,0.4],[886,0.1],[888,0.9],[889,1.55],[890,0.3],[892,0.7],[894,0.1],[896,1.0],[897,0.4],[899,0.2],[901,0.7],[903,1.1],[904,0.3],[906,0.1],[908,0.6],[910,0.9],[912,1.9],[912,1.15],[914,0.3],[916,0.6],
[943,0.05],[972,0.0],[1002,0.0]];
const acornNaturalSig = [[121,4.85,0],[474,5.77,1],[487,4.48,0],[492,7.03,2],[635,4.85,0],[643,4.6,0],[911,5.6,1]];

const acornProtected = [
[35,0.2],[37,0.5],[39,0.1],[41,0.8],[42,2.25],[42,0.95],[44,0.3],[46,0.1],[48,0.6],[50,0.2],[52,1.6],[53,0.9],[55,0.3],[57,0.1],[59,0.5],[61,0.2],[63,0.4],[65,0.1],[67,0.5],[69,0.2],[71,0.4],[73,0.1],[75,0.3],[77,0.2],
[102,0.3],[103,0.8],[105,1.4],[106,0.2],[108,1.0],[109,0.5],[111,0.1],[112,0.7],[114,1.2],[115,1.95],[116,0.3],[118,0.6],[119,0.1],[121,1.1],[122,0.4],[124,0.8],[125,0.2],[127,2.1],[128,0.6],[130,1.3],[131,0.1],[133,0.9],[134,0.4],[136,0.2],[138,1.1],[139,0.5],[141,0.1],[143,2.45],[144,0.8],[146,0.3],[148,1.2],[149,0.1],[151,0.6],[152,1.0],[154,0.2],[155,0.5],[157,2.35],[158,0.8],[160,0.1],[161,1.3],[163,1.8],[164,0.4],[166,0.7],[167,0.2],[169,1.1],[170,0.5],[172,1.95],[173,0.1],[175,0.9],[176,0.3],[178,0.6],
[206,0.2],[208,0.6],[210,1.8],[211,0.3],[213,1.0],[215,2.25],[216,0.1],[218,0.5],[220,0.2],[222,0.4],[228,1.7],[236,0.3],[237,1.55],[239,0.7],[241,0.1],[243,1.0],[245,0.4],[247,1.5],[247,2.5],[249,0.8],[250,2.5],[252,0.2],[254,0.5],[256,0.1],
[300,1.6],[300,0.45],[312,0.1],[318,0.55],[325,0.45],[333,0.8],[333,0.25],[340,1.15],[342,0.25],
[368,0.2],[370,0.5],[372,0.1],[375,1.7],[377,3.35],[378,0.4],[380,0.8],[382,1.15],[384,0.3],[385,2.55],[387,0.1],[392,1.25],[398,0.2],[400,0.6],[402,0.1],[404,0.4],[407,1.25],[409,0.3],[411,0.1],[413,0.5],[415,0.2],[417,0.6],[419,0.1],[421,0.4],[423,0.2],[426,2.5],[428,0.3],[431,0.1],[433,0.75],
[460,0.2],[461,0.8],[463,0.4],[464,1.2],[466,0.1],[467,2.0],[468,0.6],[470,0.3],[471,1.0],[473,0.1],[474,0.7],[476,1.3],[477,0.2],[479,0.5],[480,0.9],[482,0.1],[483,0.6],[485,1.1],[486,0.3],[488,1.85],[489,0.7],[491,0.2],[492,1.0],[494,0.4],[496,1.85],[497,0.1],[499,0.6],[500,1.2],[502,3.5],[502,0.3],[504,0.8],[506,0.2],
[531,0.1],[533,0.3],[534,0.7],[536,0.2],[538,0.1],[540,0.4],[542,0.2],[544,0.1],[546,0.5],[547,1.05],[549,0.2],[551,0.4],[553,0.1],[555,1.05],[557,0.3],[566,0.3],[566,0.7],[566,1.2],
[597,0.2],[599,0.6],[601,0.1],[602,1.2],[604,0.4],[606,0.1],[609,0.7],[611,0.3],[613,0.1],[617,0.4],[618,1.15],[620,0.2],[622,0.7],[623,0.1],[625,0.9],[627,0.3],[628,0.6],[630,1.1],[631,0.2],[633,0.5],[634,0.9],[636,1.6],[637,0.3],[639,0.7],[640,1.3],[642,2.2],[642,2.5],[644,0.4],[645,0.8],[647,0.1],
[676,0.2],[678,0.6],[680,0.1],[682,0.4],[684,0.8],[686,1.15],[688,0.2],[690,0.5],[692,0.1],[694,0.3],[696,1.7],[698,0.4],[703,0.2],[706,0.1],[708,0.5],[709,1.25],[711,2.35],[713,0.3],[715,0.8],[717,0.2],
[747,0.2],[749,1.35],[750,0.5],[752,0.1],[754,0.3],[756,0.7],[758,0.1],[760,0.4],[762,0.8],[764,3.35],[764,0.2],[766,0.5],[768,0.9],[770,0.2],[772,0.6],[774,0.1],[776,0.4],[777,1.8],[779,0.7],[781,0.2],[782,1.35],[784,0.5],[786,0.1],
[813,0.2],[813,1.55],[813,2.35],[813,2.75],[823,0.1],[825,0.3],[827,0.2],[829,0.6],[831,0.1],[833,0.4],[835,0.8],[837,0.2],[839,1.1],[841,0.3],[843,0.6],[845,0.1],[847,0.9],[849,0.3],[851,0.5],[852,1.5],[854,0.2],[856,0.4],
[881,0.2],[882,0.7],[884,2.25],[885,0.3],[886,0.9],[888,0.1],[889,1.6],[891,0.5],[893,1.95],[894,0.2],[896,0.8],[898,0.4],[900,0.1],[902,0.6],[904,0.3],[906,0.9],[908,0.1],[910,0.5],[912,1.35],[914,0.2],[916,0.4],
[943,1.5],[972,0.0],[1002,0.0]];
const acornProtectedSig = [[117,7.98,2],[496,5.68,1],[687,5.3,0],[839,5.05,0]];

// ---- styling / layout ----
const FONT = '"Liberation Sans", Arial, sans-serif';
const natColors = ['#b2df8a','#33a02c'];
const proColors = ['#a6cee3','#1f78b4'];
const sigColors = ['#fdae4b','#f4502a','#bd0026'];

const plots = [
  {pts: survivalNatural, sig: survivalNaturalSig, nat: true, top: 53, h: 136, min: -0.26, max: 11.47, ticks: yTicksSurvival},
  {pts: survivalProtected, sig: survivalProtectedSig, nat: false, top: 230, h: 140, min: -0.5, max: 11.36, ticks: yTicksSurvival},
  {pts: infectionNatural, sig: infectionNaturalSig, nat: true, top: 441, h: 139, min: -0.185, max: 8.37, ticks: yTicksOther},
  {pts: infectionProtected, sig: infectionProtectedSig, nat: false, top: 621, h: 140, min: -0.37, max: 8.31, ticks: yTicksOther},
  {pts: heightNatural, sig: heightNaturalSig, nat: true, top: 831, h: 139, min: -0.185, max: 8.37, ticks: yTicksOther},
  {pts: heightProtected, sig: heightProtectedSig, nat: false, top: 1012, h: 140, min: -0.37, max: 8.31, ticks: yTicksOther},
  {pts: acornNatural, sig: acornNaturalSig, nat: true, top: 1222, h: 140, min: -0.207, max: 9.45, ticks: yTicksOther},
  {pts: acornProtected, sig: acornProtectedSig, nat: false, top: 1403, h: 140, min: -0.345, max: 9.31, ticks: yTicksOther}
];
const titleY = [30, 418, 808, 1199];

function chrIndex(x){ for (let i=0;i<chrEnds.length;i++){ if (x < chrEnds[i]) return i; } return chrEnds.length-1; }

const grid=[], xAxis=[], yAxis=[], series=[];
plots.forEach((p, g) => {
  grid.push({left: 84, width: 1116, top: p.top, height: p.h, show: true, borderColor: '#1a1a1a', borderWidth: 2, backgroundColor: 'transparent'});
  xAxis.push({
    type: 'value', gridIndex: g, min: 0, max: genomeLength, position: p.nat ? 'bottom' : 'top',
    axisLine: {show: false}, splitLine: {show: false},
    axisTick: {show: true, customValues: chrTicks, length: 8, inside: false, lineStyle: {color: '#111', width: 2}},
    axisLabel: {show: p.nat, customValues: chrTicks, margin: 16, fontFamily: FONT, fontSize: 12, fontWeight: 'bold', color: '#111',
      formatter: v => chrNames[chrTicks.indexOf(v)]}
  });
  yAxis.push({
    type: 'value', gridIndex: g, min: p.min, max: p.max, inverse: !p.nat,
    axisLine: {show: false}, splitLine: {show: false},
    axisTick: {show: true, customValues: p.ticks, length: 7, lineStyle: {color: '#222', width: 1}},
    axisLabel: {customValues: p.ticks, margin: 16, fontFamily: FONT, fontSize: 12, color: '#333'},
    name: '\u2212log{s|10}(pval)', nameLocation: 'middle', nameGap: 47, nameRotate: 90,
    nameTextStyle: {fontFamily: FONT, fontSize: 20, color: '#111', rich: {s: {fontFamily: FONT, fontSize: 13, color: '#111', verticalAlign: 'bottom', lineHeight: 24}}}
  });
  const cols = p.nat ? natColors : proColors;
  const light = [], dark = [];
  p.pts.forEach(d => { (chrIndex(d[0]) % 2 === 0 ? light : dark).push([d[0], d[1]]); });
  const nm = p.nat ? 'Natural' : 'Protected';
  series.push({type: 'scatter', name: nm, xAxisIndex: g, yAxisIndex: g, data: light, symbolSize: 7.5, itemStyle: {color: cols[0], opacity: 1}, silent: true, z: 2});
  series.push({type: 'scatter', name: nm, xAxisIndex: g, yAxisIndex: g, data: dark, symbolSize: 7.5, itemStyle: {color: cols[1], opacity: 1}, silent: true, z: 3});
  [0,1,2].forEach(lv => {
    series.push({type: 'scatter', name: sigLabels[lv], xAxisIndex: g, yAxisIndex: g,
      data: p.sig.filter(s => s[2] === lv).map(s => [s[0], s[1]]),
      symbolSize: 11, itemStyle: {color: sigColors[lv], borderColor: '#222', borderWidth: 1, opacity: 1}, silent: true, z: 5});
  });
});

const graphic = panelTitles.map((t, i) => ({
  type: 'text', x: 642, y: titleY[i], z: 10,
  style: {text: t, font: 'bold 38px ' + FONT, fill: '#000', align: 'center', verticalAlign: 'middle', textAlign: 'center', textVerticalAlign: 'middle'}
}));

const chart = echarts.init(document.getElementById('c'), null, {renderer: 'canvas'});
chart.setOption({
  animation: false,
  backgroundColor: '#fff',
  grid, xAxis, yAxis, series, graphic,
  legend: [
    {orient: 'vertical', left: 103, top: 69, padding: 0, itemWidth: 22, itemHeight: 22, itemGap: 6, selectedMode: false,
     textStyle: {fontFamily: FONT, fontSize: 17, color: '#222'},
     data: [
       {name: 'Natural', icon: 'roundRect', itemStyle: {color: natColors[0], borderColor: natColors[1], borderWidth: 3}},
       {name: 'Protected', icon: 'roundRect', itemStyle: {color: proColors[0], borderColor: proColors[1], borderWidth: 3}}
     ]},
    {orient: 'vertical', left: 254, top: 66, padding: 0, itemWidth: 12, itemHeight: 12, itemGap: 4, selectedMode: false,
     textStyle: {fontFamily: FONT, fontSize: 17, color: '#222'},
     data: sigLabels.map((n, i) => ({name: n, icon: 'circle', itemStyle: {color: sigColors[i], borderColor: '#222', borderWidth: 1}}))}
  ]
});
</script>
</body></html>
